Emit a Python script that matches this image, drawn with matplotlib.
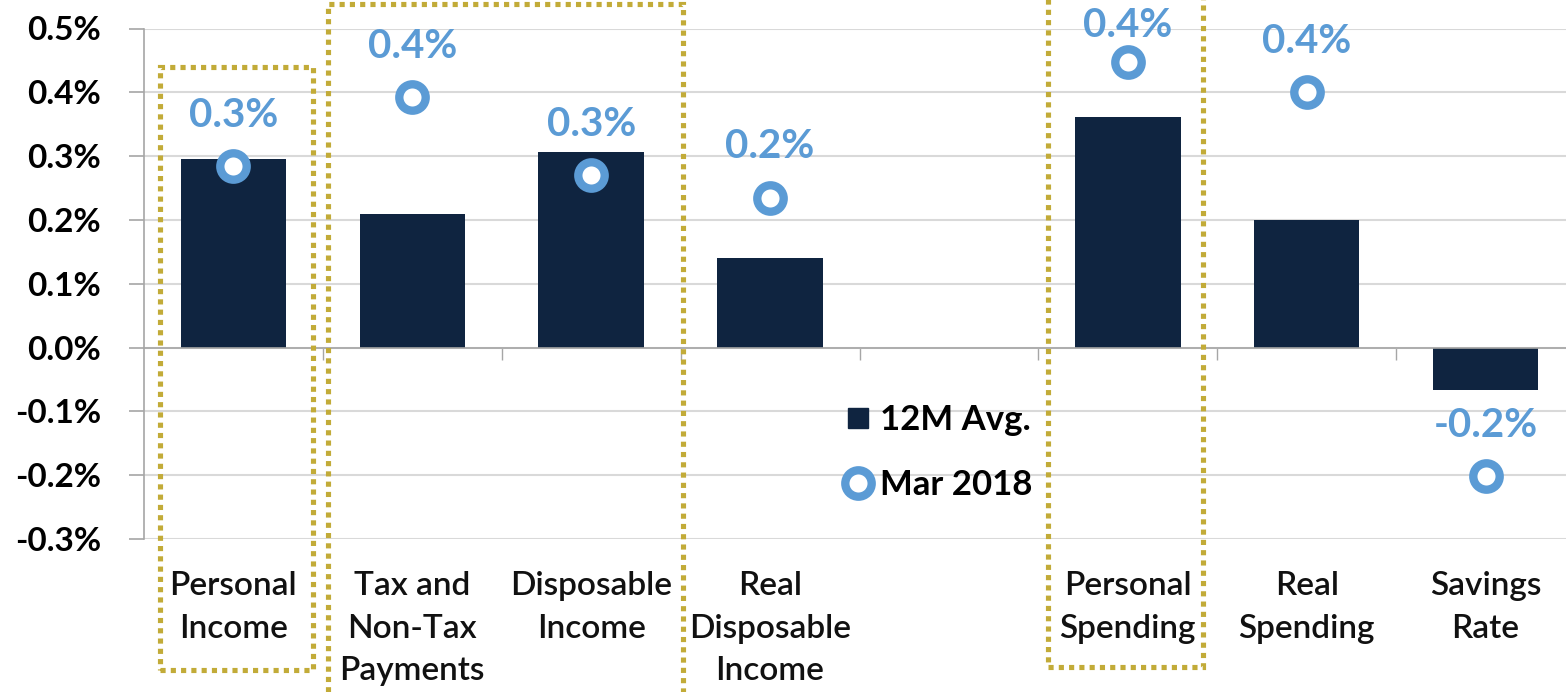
import numpy as np
import matplotlib
matplotlib.use("Agg")
import matplotlib.pyplot as plt
from matplotlib.lines import Line2D
from matplotlib.patches import Rectangle

# ---------------- data ----------------
categories = ["Personal\nIncome", "Tax and\nNon-Tax\nPayments", "Disposable\nIncome",
              "Real\nDisposable\nIncome", "", "Personal\nSpending", "Real\nSpending",
              "Savings\nRate"]
avg_12m = [0.295, 0.210, 0.306, 0.141, None, 0.362, 0.200, -0.066]
mar_2018 = [0.284, 0.392, 0.270, 0.235, None, 0.447, 0.400, -0.202]
mar_labels = ["0.3%", "0.4%", "0.3%", "0.2%", "", "0.4%", "0.4%", "-0.2%"]
yticks = [-0.3, -0.2, -0.1, 0.0, 0.1, 0.2, 0.3, 0.4, 0.5]
ytick_labels = ["-0.3%", "-0.2%", "-0.1%", "0.0%", "0.1%", "0.2%", "0.3%", "0.4%", "0.5%"]
series_names = ["12M Avg.", "Mar 2018"]
# highlighted groups (first, last category index)
highlight_groups = [(0, 0), (1, 2), (5, 5)]

# ---------------- style ----------------
plt.rcParams['font.family'] = ['Lato', 'DejaVu Sans']
NAVY = '#0F2440'
BLUE = '#5B9BD5'
GOLD = '#C2AB38'
GRID = '#D9D9D9'
AXIS = '#A6A6A6'

W, H = 1566, 692
fig = plt.figure(figsize=(W / 100, H / 100), dpi=100)
left_px, right_px, top_px, bot_px = 144, 1575, 28.5, 539
ax = fig.add_axes([left_px / W, 1 - bot_px / H, (right_px - left_px) / W, (bot_px - top_px) / H])

x = np.arange(len(categories))
idx = [i for i, v in enumerate(avg_12m) if v is not None]

ax.bar([x[i] for i in idx], [avg_12m[i] for i in idx], width=0.59, color=NAVY, zorder=2)
ax.plot([x[i] for i in idx], [mar_2018[i] for i in idx], linestyle='none', marker='o',
        markersize=19, markeredgewidth=6.0, markeredgecolor=BLUE, markerfacecolor='white',
        zorder=4)

offsets = [39] * len(categories)
offsets[5] = 29
for i in idx:
    ax.annotate(mar_labels[i], xy=(x[i], mar_2018[i]), xytext=(0, offsets[i]),
                textcoords='offset points', ha='center', va='center_baseline',
                fontsize=29, fontweight='bold', color=BLUE, zorder=5,
                annotation_clip=False)

ax.set_xlim(-0.5, len(categories) - 0.5)
ax.set_ylim(-0.3, 0.5)
ax.set_yticks(yticks)
ax.set_yticklabels(ytick_labels, fontsize=24, fontweight='bold', color='black')
ax.yaxis.grid(True, color=GRID, linewidth=1.5, zorder=0)
ax.set_axisbelow(True)

for s in ['top', 'right']:
    ax.spines[s].set_visible(False)
ax.spines['left'].set_color(AXIS)
ax.spines['left'].set_linewidth(1.2)
ax.spines['bottom'].set_position(('data', 0))
ax.spines['bottom'].set_color(AXIS)
ax.spines['bottom'].set_linewidth(1.2)
ax.spines['bottom'].set_zorder(3)

ax.set_xticks(np.arange(len(categories) - 1) + 0.5)
ax.set_xticklabels([])
ax.tick_params(axis='x', direction='out', length=8.5, width=1.0, color=AXIS)
ax.tick_params(axis='y', direction='out', length=11, width=1.2, color=AXIS, pad=20)

for i, c in enumerate(categories):
    ax.annotate(c, xy=(x[i], 0), xycoords=('data', 'axes fraction'), xytext=(0, -23),
                textcoords='offset points', ha='center', va='top', fontsize=24,
                fontweight='semibold', color='#111111', linespacing=1.53,
                annotation_clip=False)

# dotted highlight boxes (data x, data y), drawn unclipped
box_extents = {(0, 0): (-0.408, 0.447, -0.505, 0.439),
               (1, 2): (0.531, 2.514, -0.62, 0.538),
               (5, 5): (4.553, 5.419, -0.50, 0.60)}
for g in highlight_groups:
    x0, x1, y0, y1 = box_extents[g]
    r = Rectangle((x0, y0), x1 - x0, y1 - y0, fill=False, edgecolor=GOLD,
                  linewidth=3.7, linestyle=(0, (1, 1)), clip_on=False, zorder=6)
    ax.add_patch(r)

handles = [Line2D([], [], linestyle='none', marker='s', markersize=14, color=NAVY),
           Line2D([], [], linestyle='none', marker='o', markersize=19, markeredgewidth=6.0,
                  markeredgecolor=BLUE, markerfacecolor='white')]
leg = ax.legend(handles, series_names, loc='upper left',
                bbox_to_anchor=(842 / W, 1 - 404 / H), bbox_transform=fig.transFigure,
                frameon=False, fontsize=25, handlelength=0.9, handletextpad=0.2,
                labelspacing=0.95, borderpad=0, borderaxespad=0)
for t in leg.get_texts():
    t.set_fontweight('bold')

fig.savefig('out.png', dpi=100)
